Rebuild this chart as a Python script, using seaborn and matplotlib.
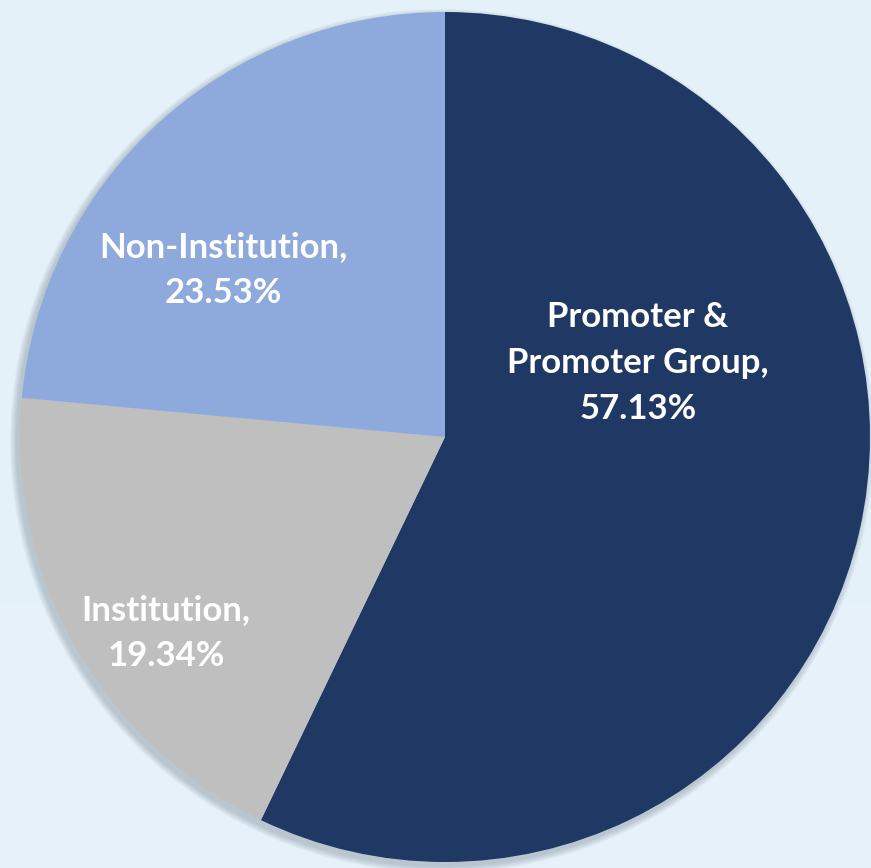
import matplotlib.pyplot as plt
import seaborn as sns
import numpy as np
from matplotlib.patches import Circle

categories = ["Promoter &\nPromoter Group", "Institution", "Non-Institution"]
shares = [57.13, 19.34, 23.53]
colors = ["#203864", "#BFBFBF", "#8EA9DB"]
# where the data labels sit (pixels from top-left), like the Excel chart
label_xy = [(638, 363), (166, 633), (223, 270)]

sns.set_theme(style="white")
plt.rcParams['font.family'] = ['Lato', 'DejaVu Sans']

W, H = 871, 868
fig = plt.figure(figsize=(W / 100, H / 100), dpi=100)
ax = fig.add_axes([0, 0, 1, 1])

# soft light-blue background
grad = np.linspace(0, 1, 256).reshape(-1, 1)
bg = np.ones((256, 1, 3))
bg[..., 0] = 0.895 + 0.01 * grad
bg[..., 1] = 0.948
bg[..., 2] = 0.980
ax.imshow(bg, extent=(0, W, 0, H), aspect="auto", zorder=0)

cx, cy, r = 445, H - 437, 425

# faint shadow round the pie, a bit toward bottom-left
for i in range(7):
    ax.add_patch(Circle((cx - 3, cy - 4), r + 1 + i, color="#4a5a6a",
                        alpha=0.045, lw=0, zorder=1))

wedges, _ = ax.pie(shares, colors=colors, startangle=90, counterclock=False,
                   center=(cx, cy), radius=r, frame=True,
                   wedgeprops=dict(linewidth=0))
for w in wedges:
    w.set_zorder(2)
ax.set_xlim(0, W)
ax.set_ylim(0, H)
ax.axis("off")

for cat, val, (x, y) in zip(categories, shares, label_xy):
    ax.text(x, H - y, f"{cat},\n{val:.2f}%", ha="center", va="center",
            color="white", fontsize=25, fontweight="bold",
            linespacing=1.52, zorder=3)

fig.savefig("out.png", dpi=100)
